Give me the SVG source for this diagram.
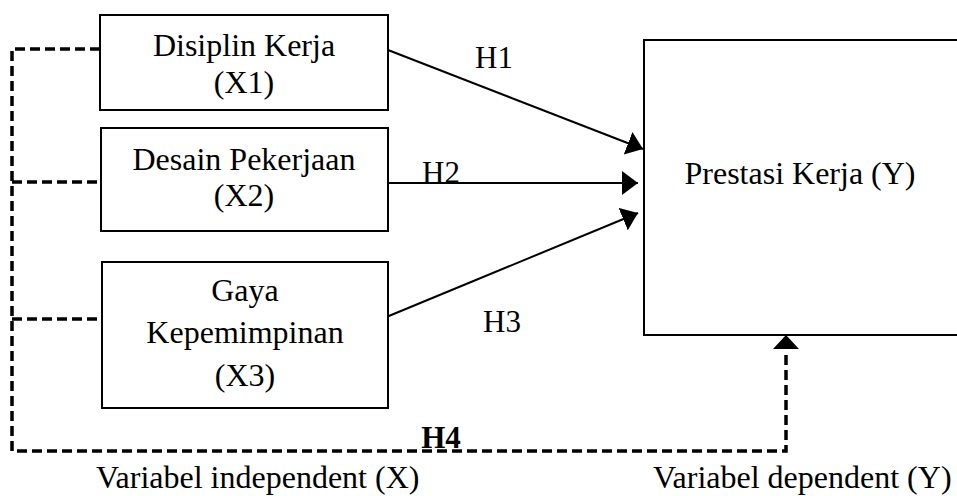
<svg xmlns="http://www.w3.org/2000/svg" width="957" height="496" viewBox="0 0 957 496">
<style>
.box{fill:#fff;stroke:#000;stroke-width:2}
.t{font-family:"Liberation Serif","Times New Roman",serif;font-size:32px;fill:#000;text-anchor:middle}
.ts{font-family:"Liberation Serif","Times New Roman",serif;font-size:32px;fill:#000}
.h{font-family:"Liberation Serif","Times New Roman",serif;font-size:31px;fill:#000;text-anchor:middle}
.arr{fill:none;stroke:#000;stroke-width:2;marker-end:url(#ah)}
.dash{fill:none;stroke:#000;stroke-width:3.5;stroke-dasharray:10,5}
</style>
<defs>
<marker id="ah" markerUnits="userSpaceOnUse" markerWidth="18" markerHeight="26" refX="16" refY="12" orient="auto">
<path d="M0,0 L16,12 L0,24 z" fill="#000"/>
</marker>
</defs>
<rect width="957" height="496" fill="#fff"/>
<g id="connectors">
<polyline class="dash" points="100,49 12,49 12,451 786,451 786,350"/>
<line class="dash" x1="12" y1="182" x2="102" y2="182"/>
<line class="dash" x1="12" y1="319" x2="102" y2="319"/>
<path d="M786,335 L773,349 L799,349 z" fill="#000"/>
<line class="arr" x1="388" y1="50" x2="643" y2="149"/>
<line class="arr" x1="381" y1="183" x2="638" y2="183"/>
<line class="arr" x1="384" y1="318" x2="638" y2="213"/>
</g>
<g id="x1">
<rect class="box" x="100" y="15" width="288" height="95"/>
<text class="t" x="244" y="56">Disiplin Kerja</text>
<text class="t" x="244" y="93">(X1)</text>
</g>
<g id="x2">
<rect class="box" x="101" y="128" width="287" height="103"/>
<text class="t" x="244" y="170">Desain Pekerjaan</text>
<text class="t" x="244" y="206">(X2)</text>
</g>
<g id="x3">
<rect class="box" x="102" y="262" width="286" height="146"/>
<text class="t" x="245" y="301">Gaya</text>
<text class="t" x="245" y="343">Kepemimpinan</text>
<text class="t" x="245" y="386">(X3)</text>
</g>
<g id="y">
<rect class="box" x="644" y="40" width="340" height="295"/>
<text class="t" x="800" y="184">Prestasi Kerja (Y)</text>
</g>
<g id="labels">
<text class="h" x="494" y="68">H1</text>
<text class="h" x="441" y="183">H2</text>
<text class="h" x="502" y="332">H3</text>
<text class="h" x="441" y="448" font-weight="bold">H4</text>
<text class="ts" x="96" y="488">Variabel independent (X)</text>
<text class="ts" x="653" y="488">Variabel dependent (Y)</text>
</g>
</svg>
